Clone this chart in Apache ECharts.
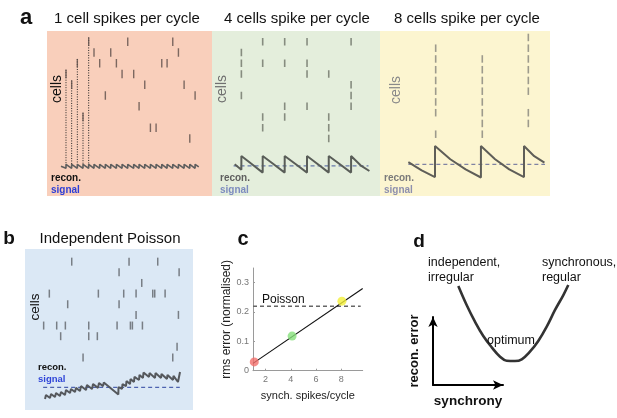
<!DOCTYPE html>
<html>
<head>
<meta charset="utf-8">
<script src="https://cdn.jsdelivr.net/npm/echarts@6/dist/echarts.min.js"></script>
<style>
    html, body { margin: 0; padding: 0; background: #fff; }
    #chart { width: 617px; height: 418px; }
</style>
</head>
<body>
<div id="chart"></div>
<script>
// ---- panel a, left: 1 cell spikes per cycle (time units, cell row from top)
var a1SpikeTimes = [3.35, 4.35, 5.35, 6.35, 7.35, 8.29, 9.29, 10.29, 11.24, 12.24, 13.24, 14.24,
                    15.29, 16.24, 17.24, 18.24, 19.24, 20.24, 21.18, 22.18, 23.18, 24.18, 25.18, 26.12];
var a1SpikeCells = [4, 5, 3, 8, 1, 2, 3, 6, 2, 3, 4, 1, 4, 7, 5, 9, 9, 3, 3, 1, 2, 5, 10, 6];
var a1Signal = [[2.47, -0.1],
    [3.35, -0.2], [3.35, 0], [4.35, -0.2], [4.35, 0], [5.35, -0.2], [5.35, 0],
    [6.35, -0.2], [6.35, 0], [7.35, -0.2], [7.35, 0], [8.29, -0.2], [8.29, 0],
    [9.29, -0.2], [9.29, 0], [10.29, -0.2], [10.29, 0], [11.24, -0.2], [11.24, 0],
    [12.24, -0.2], [12.24, 0], [13.24, -0.2], [13.24, 0], [14.24, -0.2], [14.24, 0],
    [15.29, -0.2], [15.29, 0], [16.24, -0.2], [16.24, 0], [17.24, -0.2], [17.24, 0],
    [18.24, -0.2], [18.24, 0], [19.24, -0.2], [19.24, 0], [20.24, -0.2], [20.24, 0],
    [21.18, -0.2], [21.18, 0], [22.18, -0.2], [22.18, 0], [23.18, -0.2], [23.18, 0],
    [24.18, -0.2], [24.18, 0], [25.18, -0.2], [25.18, 0], [26.12, -0.2], [26.12, 0],
    [26.76, -0.13]];
var a1Traced = 5; // first spikes traced down to the signal

// ---- panel a, middle: 4 cells spike per cycle
var a2Times = [5.18, 8.94, 12.82, 16.76, 20.59, 24.53];
var a2Cells = [[2, 3, 4, 6], [1, 3, 8, 9], [1, 3, 7, 8], [1, 3, 4, 7], [4, 8, 9, 10], [1, 5, 6, 7]];
var a2Signal = [[4.0, 0.0], [5.18, -0.27], [5.18, 0.41], [7.06, 0.0], [8.94, -0.41],
    [8.94, 0.41], [10.88, 0.0], [12.82, -0.41], [12.82, 0.41], [14.79, 0.0], [16.76, -0.41],
    [16.76, 0.41], [18.68, 0.0], [20.59, -0.41], [20.59, 0.41], [22.56, 0.0], [24.53, -0.41],
    [24.53, 0.41], [26.2, -0.05], [27.76, -0.33]];
var a2Mean = -0.08;

// ---- panel a, right: 8 cells spike per cycle
var a3Times = [9.82, 18.04, 26.16];
var a3Cells = [[1, 2, 3, 4, 5, 6, 7, 9], [2, 3, 4, 5, 6, 7, 8, 9], [0, 1, 2, 3, 4, 5, 7, 8]];
var a3Signal = [[5.0, 0.11], [7.35, -0.3], [9.7, -0.63],
    [9.7, 0.9], [12.4, 0.25], [15.1, -0.25], [17.8, -0.65],
    [17.8, 0.9], [20.3, 0.25], [22.8, -0.25], [25.4, -0.63],
    [25.4, 0.9], [27.2, 0.4], [29.0, 0.08]];
var a3Mean = 0;

// ---- panel b: independent Poisson, spike times per cell row (row 1 at top)
var bRows = [
    [8.24, 18.35, 23.41],
    [16.59, 27.18],
    [20.59],
    [4.29, 12.94, 17.41, 19.59, 22.53, 22.88, 24.71],
    [7.53, 16.59],
    [19.59, 27.06],
    [3.29, 5.59, 7.12, 11.24, 16.24, 18.59, 18.94, 20.71],
    [6.29, 11.24, 12.76],
    [26.82],
    [10.24, 26.06]
];
var bSignal = [[3.53, -0.58], [3.70, -0.38], [4.41, -0.53], [4.59, -0.33], [5.29, -0.48],
    [5.47, -0.28], [6.17, -0.43], [6.35, -0.23], [7.05, -0.38], [7.23, -0.13], [7.94, -0.28],
    [8.11, -0.08], [8.82, -0.23], [8.99, -0.03], [9.70, -0.18], [9.88, 0.06], [10.76, -0.13],
    [10.93, 0.11], [11.82, -0.08], [12.0, 0.16], [12.87, -0.03], [13.05, 0.21], [13.76, 0.06],
    [13.9, 0.24], [16.46, -0.35], [16.49, 0.01], [17.11, -0.08], [17.20, 0.16], [17.81, 0.06],
    [17.90, 0.31], [18.52, 0.16], [18.61, 0.41], [19.22, 0.26], [19.31, 0.51], [20.11, 0.36],
    [20.19, 0.61], [20.81, 0.46], [20.90, 0.73], [21.87, 0.51], [21.96, 0.70], [22.93, 0.46],
    [23.02, 0.70], [23.99, 0.46], [24.07, 0.66], [25.04, 0.41], [25.13, 0.61], [26.10, 0.36],
    [26.19, 0.56], [26.98, 0.26], [27.34, 0.75]];
var bMeanRange = [3.2, 27.3];

// ---- panel c: rms error vs synchronous spikes per cycle
var cSync = [1.1, 4.1, 8.05];
var cError = [0.03, 0.118, 0.237];
var cDotColors = ['#f26f6c', '#86e07a', '#f3ef3a'];
var cFitX = [1, 9.7];
var cFitY = [0.025, 0.28];
var cPoisson = 0.22;
var cPoissonEnd = 9.54;
var cXTicks = [2, 4, 6, 8];
var cYTicks = [0, 0.1, 0.2, 0.3];

// ---- panel d: sketch of error vs synchrony
var dCurveX = [0.064, 0.128, 0.192, 0.256, 0.321, 0.385, 0.436, 0.5, 0.552, 0.615, 0.679, 0.744, 0.808, 0.872, 0.91];
var dCurveY = [0.933, 0.722, 0.537, 0.378, 0.252, 0.148, 0.103, 0.1, 0.119, 0.203, 0.322, 0.481, 0.667, 0.833, 0.944];

var FONT = '"Liberation Sans", Arial, Helvetica, sans-serif';
var T_PX = 5.67; // pixels per time unit in the rasters

var chart = echarts.init(document.getElementById('chart'));

var grids = [], xAxes = [], yAxes = [], series = [];

function addGrid(g) {
    g.outerBoundsMode = 'none';
    g.containLabel = false;
    grids.push(g);
    return grids.length - 1;
}
function hiddenAxis(gi, min, max, inverse) {
    return { type: 'value', gridIndex: gi, min: min, max: max, inverse: !!inverse, show: false };
}

// one raster panel: background grid for the cells + a grid for the signal
function rasterPanel(box, bg, rowPx0, rowPx, sigTop) {
    var gr = addGrid({ left: box[0], top: box[1], width: box[2], height: box[3], show: true,
        backgroundColor: bg, borderWidth: 0 });
    xAxes.push(hiddenAxis(gr, 0, box[2] / T_PX));
    yAxes.push(hiddenAxis(gr, (box[1] - rowPx0) / rowPx, (box[1] + box[3] - rowPx0) / rowPx, true));
    var gs = addGrid({ left: box[0], top: sigTop, width: box[2], height: 40.6 });
    xAxes.push(hiddenAxis(gs, 0, box[2] / T_PX));
    yAxes.push(hiddenAxis(gs, -1, 1));
    return [gr, gs];
}

function spikes(gi, data, color, size) {
    series.push({ type: 'scatter', xAxisIndex: gi, yAxisIndex: gi, data: data, symbol: 'rect',
        symbolSize: size, itemStyle: { color: color }, silent: true, z: 3 });
}
function signal(gi, data, color, width) {
    series.push({ type: 'line', xAxisIndex: gi, yAxisIndex: gi, data: data, symbol: 'none',
        lineStyle: { color: color, width: width }, silent: true, z: 4 });
}
function meanLine(gi, x0, x1, v, color) {
    series.push({ type: 'line', xAxisIndex: gi, yAxisIndex: gi, data: [[x0, v], [x1, v]], symbol: 'none',
        lineStyle: { color: color, width: 1.3, type: [4, 3] }, silent: true, z: 3 });
}

// a1
var p1 = rasterPanel([47, 31, 165, 165], '#f9cfbb', 31, 10.75, 144);
var a1Data = [];
for (var i = 0; i < a1SpikeTimes.length; i++) a1Data.push([a1SpikeTimes[i], a1SpikeCells[i]]);
spikes(p1[0], a1Data, '#5d4e4a', [1.4, 8.5]);
for (var i = 0; i < a1Traced; i++) {
    series.push({ type: 'line', xAxisIndex: p1[0], yAxisIndex: p1[0], symbol: 'none', silent: true, z: 2,
        data: [[a1SpikeTimes[i], a1SpikeCells[i] - 0.4], [a1SpikeTimes[i], 12.4]],
        lineStyle: { color: '#222', width: 1, type: [1, 1.5] } });
}
signal(p1[1], a1Signal, '#5e5e5e', 1.6);

// a2
var p2 = rasterPanel([212, 31, 168, 165], '#e4eedc', 31, 10.75, 144);
var a2Data = [];
a2Times.forEach(function (t, k) { a2Cells[k].forEach(function (c) { a2Data.push([t, c]); }); });
spikes(p2[0], a2Data, '#6e7368', [1.6, 7.5]);
meanLine(p2[1], 3.8, 27.6, a2Mean, '#6679ab');
signal(p2[1], a2Signal, '#595d58', 2);

// a3
var p3 = rasterPanel([380, 31, 170, 165], '#fcf5d0', 31 + 0.6 * 10.75, 10.75, 144);
var a3Data = [];
a3Times.forEach(function (t, k) { a3Cells[k].forEach(function (c) { a3Data.push([t, c]); }); });
spikes(p3[0], a3Data, '#85837a', [1.6, 7.5]);
meanLine(p3[1], 5.0, 29.1, a3Mean, '#7f82a2');
signal(p3[1], a3Signal, '#5f5e58', 2);

// b
var pb = rasterPanel([25, 249, 168, 161], '#dbe8f5', 251, 10.65, 367);
var bData = [];
bRows.forEach(function (row, r) { row.forEach(function (t) { bData.push([t, r + 1]); }); });
spikes(pb[0], bData, '#5f6369', [1.5, 8]);
meanLine(pb[1], bMeanRange[0], bMeanRange[1], 0, '#4e63b0');
signal(pb[1], bSignal, '#55585c', 2);

// c
var gc = addGrid({ left: 253, top: 268, width: 109.7, height: 102.7 });
xAxes.push({ type: 'value', gridIndex: gc, min: 1, max: 9.7,
    axisLine: { onZero: false, lineStyle: { color: '#9a9a9a', width: 1 } },
    axisTick: { show: true, inside: true, length: 2, customValues: cXTicks, lineStyle: { color: '#9a9a9a' } },
    axisLabel: { customValues: cXTicks, color: '#777', fontSize: 9, margin: 4, fontFamily: FONT },
    splitLine: { show: false },
    name: 'synch. spikes/cycle', nameLocation: 'middle', nameGap: 20,
    nameTextStyle: { fontSize: 11, color: '#222', fontFamily: FONT } });
yAxes.push({ type: 'value', gridIndex: gc, min: 0, max: 0.35,
    axisLine: { show: true, onZero: false, lineStyle: { color: '#9a9a9a', width: 1 } },
    axisTick: { show: true, inside: true, length: 2, customValues: cYTicks, lineStyle: { color: '#9a9a9a' } },
    axisLabel: { customValues: cYTicks, color: '#777', fontSize: 9, margin: 4, fontFamily: FONT },
    splitLine: { show: false },
    name: 'rms error (normalised)', nameLocation: 'middle', nameGap: 13,
    nameTextStyle: { fontSize: 12, color: '#222', fontFamily: FONT } });
series.push({ type: 'line', xAxisIndex: gc, yAxisIndex: gc, symbol: 'none', silent: true,
    data: [[1, cPoisson], [cPoissonEnd, cPoisson]], lineStyle: { color: '#666', width: 1.5, type: [4, 3] } });
series.push({ type: 'line', xAxisIndex: gc, yAxisIndex: gc, symbol: 'none', silent: true,
    data: [[cFitX[0], cFitY[0]], [cFitX[1], cFitY[1]]], lineStyle: { color: '#111', width: 1.1 } });
series.push({ type: 'scatter', xAxisIndex: gc, yAxisIndex: gc, symbolSize: 9, silent: true, z: 5,
    data: cSync.map(function (x, i) { return { value: [x, cError[i]], itemStyle: { color: cDotColors[i] } }; }) });

// d: arrow axes
var gd = addGrid({ left: 433, top: 317, width: 70, height: 68 });
var arrowLine = { show: true, onZero: false, symbol: ['none', 'arrow'], symbolSize: [7, 10],
    lineStyle: { color: '#000', width: 2 } };
xAxes.push({ type: 'value', gridIndex: gd, min: 0, max: 1, axisLine: arrowLine,
    axisTick: { show: false }, axisLabel: { show: false }, splitLine: { show: false },
    name: 'synchrony', nameLocation: 'middle', nameGap: 9,
    nameTextStyle: { fontSize: 13.5, fontWeight: 'bold', color: '#111', fontFamily: FONT } });
yAxes.push({ type: 'value', gridIndex: gd, min: 0, max: 1, axisLine: arrowLine,
    axisTick: { show: false }, axisLabel: { show: false }, splitLine: { show: false },
    name: 'recon. error', nameLocation: 'middle', nameGap: 12,
    nameTextStyle: { fontSize: 13, fontWeight: 'bold', color: '#111', fontFamily: FONT } });
var gdc = addGrid({ left: 450, top: 280, width: 130, height: 90 });
xAxes.push(hiddenAxis(gdc, 0, 1));
yAxes.push(hiddenAxis(gdc, 0, 1));
series.push({ type: 'line', xAxisIndex: gdc, yAxisIndex: gdc, symbol: 'none', smooth: 0.4, silent: true,
    data: dCurveX.map(function (x, i) { return [x, dCurveY[i]]; }),
    lineStyle: { color: '#333', width: 2.6 } });

// texts
function txt(s, x, y, o) {
    o = o || {};
    return { type: 'text', x: x, y: y, rotation: o.rot || 0, z: 100, silent: true,
        style: { text: s, fontSize: o.size || 12, fontFamily: FONT, fontWeight: o.bold ? 'bold' : 'normal',
            fill: o.color || '#111', align: o.align || 'left', verticalAlign: 'middle' } };
}
var ROT = Math.PI / 2;
var texts = [
    txt('a', 26, 18, { size: 22, bold: true, align: 'center' }),
    txt('1 cell spikes per cycle', 127, 19, { size: 15, align: 'center' }),
    txt('4 cells spike per cycle', 297, 19, { size: 15, align: 'center' }),
    txt('8 cells spike per cycle', 467, 19, { size: 15, align: 'center' }),
    txt('cells', 57, 89, { size: 14, rot: ROT, align: 'center' }),
    txt('cells', 222, 89, { size: 14, rot: ROT, align: 'center', color: '#707070' }),
    txt('cells', 396, 90, { size: 14, rot: ROT, align: 'center', color: '#8a8a8a' }),
    txt('recon.', 51, 178.5, { size: 10, bold: true, color: '#111' }),
    txt('signal', 51, 190.5, { size: 10, bold: true, color: '#2f3fd6' }),
    txt('recon.', 220, 178, { size: 10, bold: true, color: '#5e5e5e' }),
    txt('signal', 220, 190, { size: 10, bold: true, color: '#7d8cbf' }),
    txt('recon.', 384, 178, { size: 10, bold: true, color: '#7a7a7a' }),
    txt('signal', 384, 190, { size: 10, bold: true, color: '#8e90ae' }),
    txt('b', 9, 239, { size: 19, bold: true, align: 'center' }),
    txt('Independent Poisson', 110, 239, { size: 15, align: 'center' }),
    txt('cells', 35, 307, { size: 13.5, rot: ROT, align: 'center' }),
    txt('recon.', 38, 367.5, { size: 9.5, bold: true, color: '#111' }),
    txt('signal', 38, 379.5, { size: 9.5, bold: true, color: '#2f45d8' }),
    txt('c', 243, 239, { size: 20, bold: true, align: 'center' }),
    txt('Poisson', 262, 300, { size: 12 }),
    txt('d', 419, 242, { size: 19, bold: true, align: 'center' }),
    txt('independent,', 428, 263, { size: 12.5 }),
    txt('irregular', 428, 278, { size: 12.5 }),
    txt('synchronous,', 542, 263, { size: 12.5 }),
    txt('regular', 542, 278, { size: 12.5 }),
    txt('optimum', 487, 341, { size: 12.5 })
];

chart.setOption({
    animation: false,
    backgroundColor: '#ffffff',
    grid: grids,
    xAxis: xAxes,
    yAxis: yAxes,
    series: series,
    graphic: texts
});
</script>
</body>
</html>
